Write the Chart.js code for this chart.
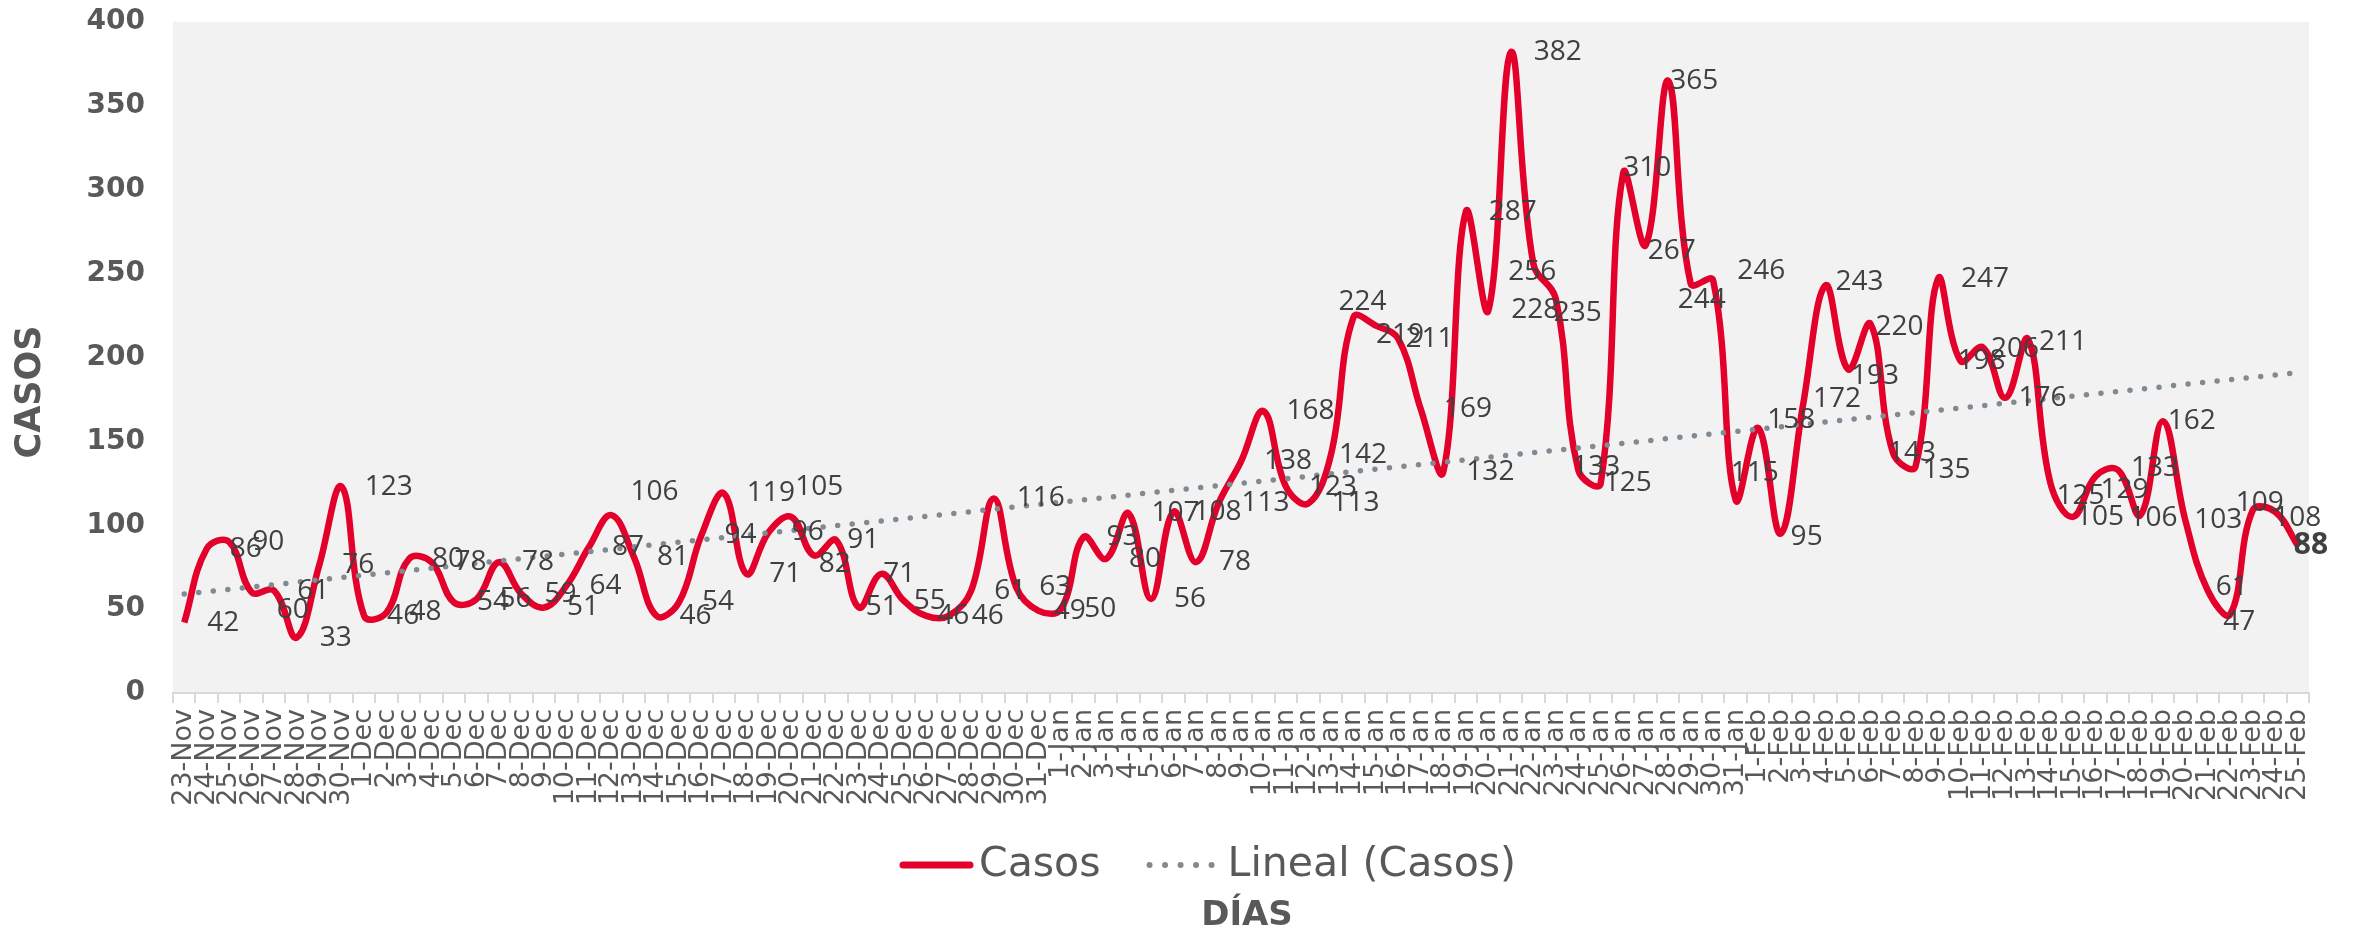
<!DOCTYPE html>
<html>
<head>
<meta charset="utf-8">
<script src="https://cdn.jsdelivr.net/npm/chart.js@4.4.1/dist/chart.umd.min.js"></script>
<style>
    html, body { margin: 0; padding: 0; background: #ffffff; }
    #wrap { width: 2354px; height: 930px; }
</style>
</head>
<body>
<div id="wrap"><canvas id="chart" width="2354" height="930"></canvas></div>
<script>
// Days on the x axis (23-Nov .. 25-Feb)
const days = [
    '23-Nov', '24-Nov', '25-Nov', '26-Nov', '27-Nov', '28-Nov', '29-Nov', '30-Nov',
    '1-Dec', '2-Dec', '3-Dec', '4-Dec', '5-Dec', '6-Dec', '7-Dec', '8-Dec', '9-Dec', '10-Dec',
    '11-Dec', '12-Dec', '13-Dec', '14-Dec', '15-Dec', '16-Dec', '17-Dec', '18-Dec', '19-Dec', '20-Dec',
    '21-Dec', '22-Dec', '23-Dec', '24-Dec', '25-Dec', '26-Dec', '27-Dec', '28-Dec', '29-Dec', '30-Dec', '31-Dec',
    '1-Jan', '2-Jan', '3-Jan', '4-Jan', '5-Jan', '6-Jan', '7-Jan', '8-Jan', '9-Jan', '10-Jan',
    '11-Jan', '12-Jan', '13-Jan', '14-Jan', '15-Jan', '16-Jan', '17-Jan', '18-Jan', '19-Jan', '20-Jan',
    '21-Jan', '22-Jan', '23-Jan', '24-Jan', '25-Jan', '26-Jan', '27-Jan', '28-Jan', '29-Jan', '30-Jan', '31-Jan',
    '1-Feb', '2-Feb', '3-Feb', '4-Feb', '5-Feb', '6-Feb', '7-Feb', '8-Feb', '9-Feb', '10-Feb',
    '11-Feb', '12-Feb', '13-Feb', '14-Feb', '15-Feb', '16-Feb', '17-Feb', '18-Feb', '19-Feb', '20-Feb',
    '21-Feb', '22-Feb', '23-Feb', '24-Feb', '25-Feb'
];

// Daily cases
const casosNov = [42, 86, 90, 60, 61, 33, 76, 123];
const casosDec = [46, 48, 80, 78, 54, 56, 78, 59, 51, 64, 87, 106, 81, 46, 54, 94, 119, 71, 96, 105,
                  82, 91, 51, 71, 55, 46, 46, 61, 116, 63, 49];
const casosJan = [50, 93, 80, 107, 56, 108, 78, 113, 138, 168, 123, 113, 142, 224, 219, 211, 169, 132, 287, 228,
                  382, 256, 235, 133, 125, 310, 267, 365, 244, 246, 115];
const casosFeb = [158, 95, 172, 243, 193, 220, 143, 135, 247, 198, 206, 176, 211, 125, 105, 129, 133, 106, 162, 103,
                  61, 47, 109, 108, 88];
const casos = [...casosNov, ...casosDec, ...casosJan, ...casosFeb];

// Linear trend line, start and end values
const trendEnds = [59, 191];

const yTicks = [0, 50, 100, 150, 200, 250, 300, 350, 400];

const RED = '#E3002B';
const GREY_DOT = '#7F8A93';
const TEXT = '#595959';
const LABEL = '#404040';

// value labels sit to the right of the point; some were moved by hand in the original
const LABEL_DX = 23;
const labelNudge = {
    3: [25, 18], 19: [19, -23], 27: [4, -30], 28: [5, 9], 29: [11, 0], 30: [7, 0], 31: [2, 0],
    32: [10, 0], 33: [11, 0], 38: [15, 0], 44: [20, 0], 51: [8, 0], 52: [-15, -15], 53: [0, 9],
    54: [7, 0], 60: [-25, 8], 61: [-2, 14], 62: [-6, -3], 63: [3, 0], 64: [0, -5], 65: [2, 6],
    66: [2, 0], 67: [-13, 16], 68: [24, -9], 69: [-5, -27], 70: [9, -8], 71: [10, 3], 72: [10, -5],
    73: [10, -3], 74: [3, 7], 75: [5, 3], 76: [-5, 0], 77: [7, 3], 79: [-3, 0], 80: [8, 2],
    81: [13, 0], 82: [11, 3], 83: [6, 13], 84: [3, 0], 85: [5, 13], 86: [13, -2], 87: [-11, 3],
    88: [5, 0], 89: [9, 0], 90: [8, -4], 91: [-7, 8], 92: [-17, -7], 93: [-2, 6], 94: [-4, 0]
};

// plot box wanted on the 2354x930 canvas
const target = { left: 173, top: 22, right: 2309, bottom: 693 };
const pad = { left: 0, top: 22, right: 45, bottom: 0 };
let xAxisHeight = 237;
let yAxisWidth = 173;

// trend: only first and last points, gap spanned
const trend = casos.map((v, i) => i === 0 ? trendEnds[0] : (i === casos.length - 1 ? trendEnds[1] : null));

// Plot background, value labels, axis titles and legend
const decor = {
    id: 'decor',
    beforeDraw(chart) {
        const { ctx, chartArea: a } = chart;
        ctx.save();
        ctx.fillStyle = '#F2F2F2';
        ctx.fillRect(a.left, a.top, a.right - a.left, a.bottom - a.top);
        ctx.restore();
    },
    afterDatasetsDraw(chart) {
        const ctx = chart.ctx;
        const meta = chart.getDatasetMeta(1);
        ctx.save();
        ctx.fillStyle = LABEL;
        ctx.textAlign = 'left';
        ctx.textBaseline = 'middle';
        meta.data.forEach((pt, i) => {
            const last = i === casos.length - 1;
            const [dx, dy] = labelNudge[i] || [LABEL_DX, 0];
            ctx.font = (last ? 'bold 30px' : '28px') + ' "Open Sans"';
            ctx.fillText(String(casos[i]), pt.x + dx, pt.y + dy);
        });
        ctx.restore();
    },
    afterDraw(chart) {
        const ctx = chart.ctx;
        ctx.save();
        ctx.fillStyle = TEXT;

        // y axis title
        ctx.font = 'bold 35px "DejaVu Sans"';
        ctx.textAlign = 'center';
        ctx.textBaseline = 'middle';
        ctx.save();
        ctx.translate(31, 392);
        ctx.rotate(-Math.PI / 2);
        ctx.fillText('CASOS', 0, 0);
        ctx.restore();

        // x axis title
        ctx.font = 'bold 34px "DejaVu Sans"';
        ctx.fillText('DÍAS', 1247, 916);

        // legend
        const ly = 865;
        let x = 900;
        ctx.lineCap = 'round';
        ctx.strokeStyle = RED;
        ctx.lineWidth = 7;
        ctx.beginPath();
        ctx.moveTo(x + 3, ly);
        ctx.lineTo(x + 70, ly);
        ctx.stroke();
        x += 79;
        ctx.font = '41px "DejaVu Sans"';
        ctx.textAlign = 'left';
        ctx.fillText('Casos', x, ly);
        x += ctx.measureText('Casos').width + 46;
        ctx.fillStyle = GREY_DOT;
        for (let k = 0; k < 5; k++) {
            ctx.beginPath();
            ctx.arc(x + 3 + k * 15.5, ly, 3, 0, Math.PI * 2);
            ctx.fill();
        }
        x += 81;
        ctx.fillStyle = TEXT;
        ctx.fillText('Lineal (Casos)', x, ly);
        ctx.restore();
    }
};

const chart = new Chart(document.getElementById('chart').getContext('2d'), {
    type: 'line',
    data: {
        labels: days,
        datasets: [{
            label: 'Lineal (Casos)',
            data: trend,
            borderColor: GREY_DOT,
            borderWidth: 5.5,
            borderDash: [0, 14.6],
            borderCapStyle: 'round',
            spanGaps: true,
            tension: 0,
            pointRadius: 0,
            order: 0
        }, {
            label: 'Casos',
            data: casos,
            borderColor: RED,
            borderWidth: 6.5,
            borderJoinStyle: 'round',
            tension: 0.4,
            pointRadius: 0,
            fill: false,
            order: 1
        }]
    },
    options: {
        responsive: false,
        animation: false,
        devicePixelRatio: 1,
        layout: { padding: () => ({ left: pad.left, top: pad.top, right: pad.right, bottom: pad.bottom }) },
        plugins: {
            legend: { display: false },
            tooltip: { enabled: false }
        },
        scales: {
            x: {
                offset: true,
                afterFit: s => { s.height = xAxisHeight; },
                grid: {
                    display: true,
                    drawOnChartArea: false,
                    offset: true,
                    color: '#D9D9D9',
                    lineWidth: 2,
                    tickLength: 10
                },
                border: { display: true, color: '#D9D9D9', width: 2 },
                ticks: {
                    autoSkip: false,
                    maxRotation: 90,
                    minRotation: 90,
                    padding: 6,
                    color: TEXT,
                    font: { family: 'DejaVu Sans', size: 27 }
                }
            },
            y: {
                min: 0,
                max: 400,
                // fixed width, and no extra room reserved above/below for the tick labels
                afterFit: s => { s.width = yAxisWidth; s.paddingTop = 0; s.paddingBottom = 0; },
                afterBuildTicks: s => { s.ticks = yTicks.map(v => ({ value: v })); },
                grid: { display: false, drawTicks: false },
                border: { display: false },
                ticks: {
                    padding: 28,
                    color: TEXT,
                    font: { family: 'DejaVu Sans', size: 28, weight: 'bold' }
                }
            }
        }
    },
    plugins: [decor]
});

// nudge the layout until the plot box sits where it does in the original
for (let k = 0; k < 4; k++) {
    const a = chart.chartArea;
    pad.top += target.top - a.top;
    xAxisHeight += a.bottom - target.bottom;
    yAxisWidth += target.left - a.left;
    pad.right += a.right - target.right;
    chart.update();
}
</script>
</body>
</html>
